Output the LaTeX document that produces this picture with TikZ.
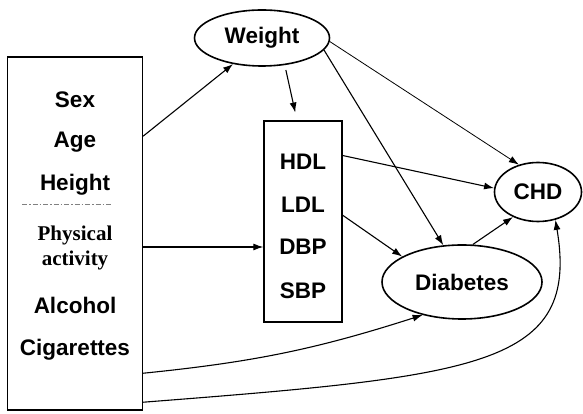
\documentclass[tikz,border=0pt]{standalone}
\usepackage{fontspec}
\setmainfont{Liberation Sans}
\newfontfamily\romanfont{Liberation Serif}
\usetikzlibrary{arrows,arrows.meta,shapes.geometric}

\begin{document}
\begin{tikzpicture}[x=1pt,y=1pt,
	lbl/.style={font=\fontsize{22.5}{26}\selectfont\bfseries,inner sep=0pt},
	serif/.style={font=\fontsize{21}{24}\romanfont\bfseries,inner sep=0pt},
	oval/.style={draw,ellipse,line width=1.6pt,inner sep=0pt},
	frame/.style={draw,rectangle,line width=1.3pt},
	link/.style={-{Latex[length=10pt,width=7pt]},line width=1.1pt}]
\useasboundingbox (0,0) rectangle (583,414);

% boxes
\node[frame,minimum width=135,minimum height=353] (factors) at (75,180.5) {};
\node[frame,minimum width=78,minimum height=201] (lipids) at (303,192.5) {};

% ovals
\node[oval,minimum width=135,minimum height=56] (weight) at (262,376) {};
\node[lbl] at (weight) {Weight};
\node[oval,minimum width=87,minimum height=59] (chd) at (538,222) {};
\node[lbl] at (chd) {CHD};
\node[oval,minimum width=160,minimum height=74] (diabetes) at (462,132) {};
\node[lbl] at (diabetes) {Diabetes};

% left box texts
\node[lbl] (sex) at (75,314) {Sex};
\node[lbl] (age) at (75,272) {Age};
\node[lbl] (height) at (75,229) {Height};
\draw[gray,line width=1pt,dash pattern=on 5pt off 2pt on 1.5pt off 2pt]
	(22,209) -- (112,209);
\node[serif] (phys) at (75,179) {Physical};
\node[serif] (act) at (75,154) {activity};
\node[lbl] (alc) at (75,109) {Alcohol};
\node[lbl] (cig) at (75,64) {Cigarettes};

% middle box texts
\node[lbl] (hdl) at (303,252) {HDL};
\node[lbl] (ldl) at (303,209) {LDL};
\node[lbl] (dbp) at (303,167) {DBP};
\node[lbl] (sbp) at (303,123) {SBP};

% arrows
\draw[link] (factors.55) -- (weight.222);
\draw[link] (factors.east |- dbp) -- (lipids.west |- dbp);
\draw[link,shorten <=5pt,shorten >=8pt] (weight.-50) -- ([xshift=-6pt]lipids.north);
\draw[link] (weight.-11) -- (diabetes.117);
\draw[link,line width=.8pt] (weight.-3) -- (chd.125);
\draw[link] (lipids.59) -- (chd.175);
\draw[link] (lipids.9) -- (diabetes.157);
\draw[link] (diabetes.74) -- (chd.225);
\draw[link] (factors.-64) to[bend right=6] (diabetes.220);
\draw[link] (factors.-68) .. controls (480,38) and (580,48) .. (chd.-58);

\end{tikzpicture}
\end{document}
